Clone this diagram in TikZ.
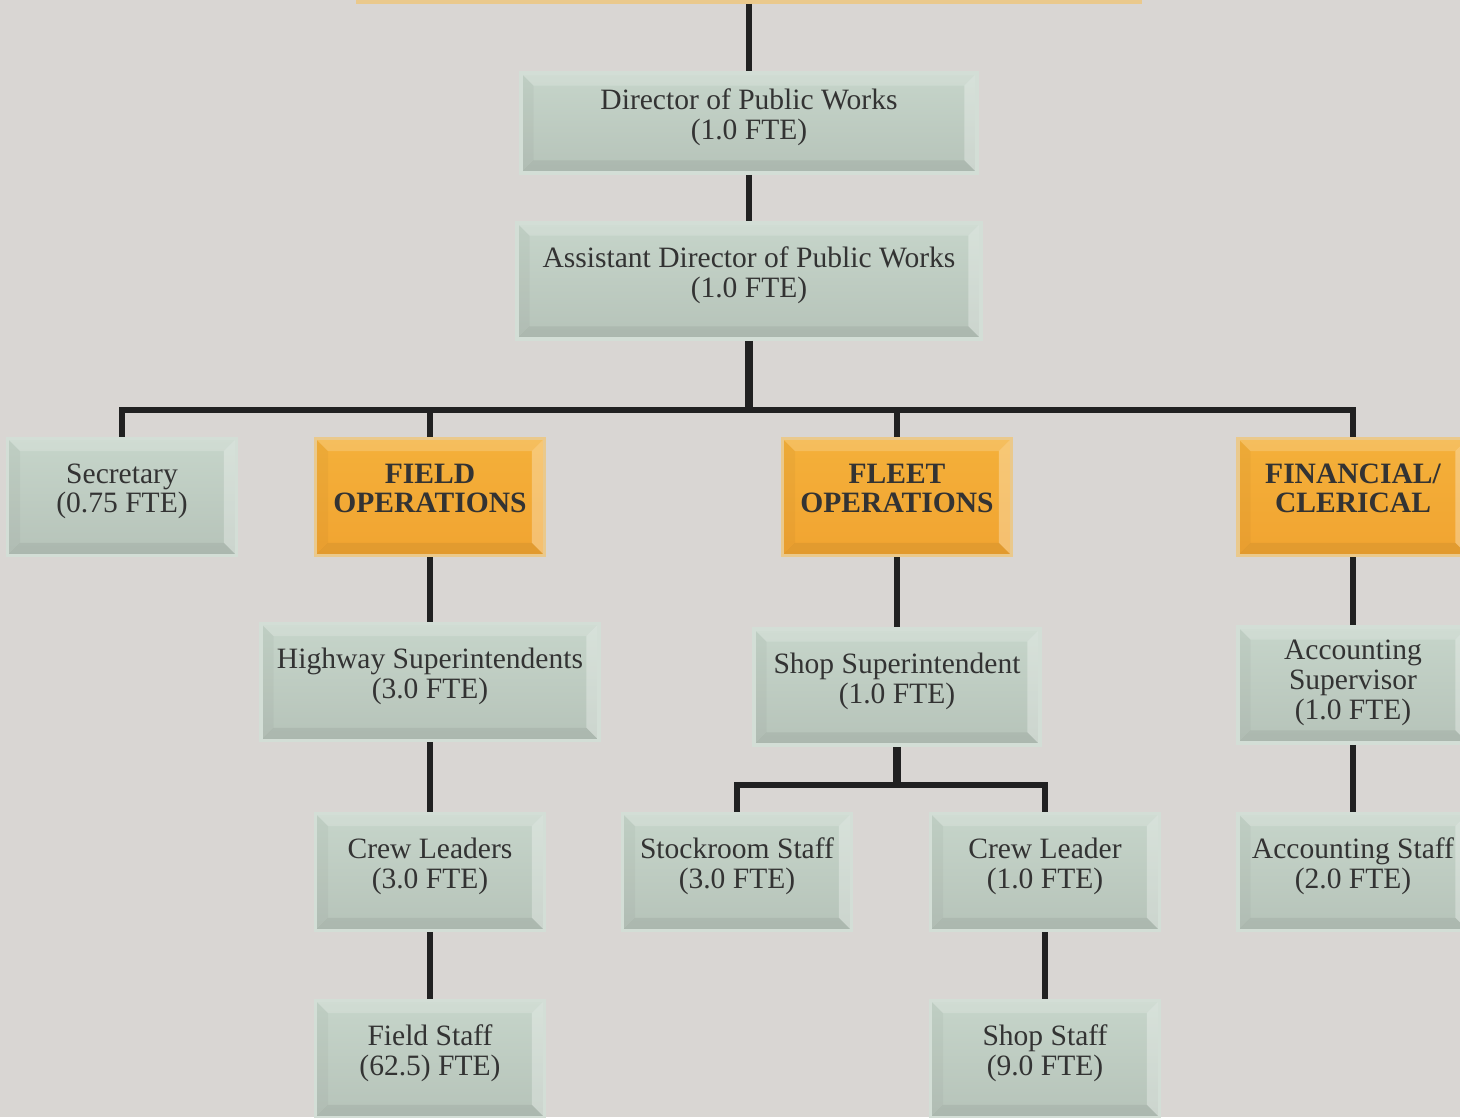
\documentclass[tikz,border=0pt]{standalone}
\usepackage{fontspec}
\setmainfont{Liberation Serif}
\usetikzlibrary{positioning}
\definecolor{paperGray}{HTML}{D9D6D3}
\definecolor{boxGreenTop}{HTML}{C6D5CA}
\definecolor{boxGreenLow}{HTML}{B6C3B9}
\definecolor{edgeGreen}{HTML}{D3DED6}
\definecolor{boxOrangeTop}{HTML}{F4B03A}
\definecolor{boxOrangeLow}{HTML}{F1A431}
\definecolor{edgeOrange}{HTML}{EAC98C}
\definecolor{lineBlack}{gray}{0.13}
\definecolor{textGray}{gray}{0.2}

% bevelled face of a box
\newcommand{\bevel}{%
  \fill[white, opacity=.18] (path picture bounding box.north west) -- (path picture bounding box.north east)
    -- ([shift={(-3.6pt,-3.6pt)}]path picture bounding box.north east) -- ([shift={(3.6pt,-3.6pt)}]path picture bounding box.north west) -- cycle;
  \fill[white, opacity=.30] (path picture bounding box.north east) -- (path picture bounding box.south east)
    -- ([shift={(-3.6pt,3.6pt)}]path picture bounding box.south east) -- ([shift={(-3.6pt,-3.6pt)}]path picture bounding box.north east) -- cycle;
  \fill[black, opacity=.06] (path picture bounding box.south west) -- (path picture bounding box.south east)
    -- ([shift={(-3.6pt,3.6pt)}]path picture bounding box.south east) -- ([shift={(3.6pt,3.6pt)}]path picture bounding box.south west) -- cycle;
  \fill[black, opacity=.03] (path picture bounding box.north west) -- (path picture bounding box.south west)
    -- ([shift={(3.6pt,3.6pt)}]path picture bounding box.south west) -- ([shift={(3.6pt,-3.6pt)}]path picture bounding box.north west) -- cycle;
}

\tikzset{
  unit/.style={draw=edgeGreen, line width=1pt, top color=boxGreenTop, bottom color=boxGreenLow,
    text=textGray, align=center, inner sep=0pt, minimum width=2.29cm, minimum height=1.17cm,
    text depth=5pt, font=\fontsize{8.4pt}{8.45pt}\selectfont, path picture={\bevel}},
  division/.style={unit, draw=edgeOrange, top color=boxOrangeTop, bottom color=boxOrangeLow,
    font=\fontsize{8.4pt}{8.45pt}\selectfont\bfseries},
  link/.style={draw=lineBlack, line width=1.7pt},
}

\begin{document}
\begin{tikzpicture}[x=0.01cm, y=-0.01cm]
    % Page
    \fill[paperGray] (0,0) rectangle (1460,1117);
    \useasboundingbox (0,0) rectangle (1460,1117);

    % Top of the chain
    \node[division, minimum width=7.82cm, minimum height=1cm] (board) at (749,-48) {};
    \node[unit, minimum width=4.56cm, minimum height=1cm] (dir) at (749,123) {Director of Public Works\\(1.0 FTE)};
    \node[unit, minimum width=4.64cm, minimum height=1.16cm] (asst) at (749,281) {Assistant Director of Public Works\\(1.0 FTE)};

    % Second row
    \node[unit] (sec) at (122,497) {Secretary\\(0.75 FTE)};
    \node[division] (field) at (430,497) {FIELD\\OPERATIONS};
    \node[division] (fleet) at (897,497) {FLEET\\OPERATIONS};
    \node[division, minimum width=2.3cm] (fin) at (1353,497) {FINANCIAL/\\CLERICAL};

    % Field operations
    \node[unit, minimum width=3.38cm] (hwy) at (430,682) {Highway Superintendents\\(3.0 FTE)};
    \node[unit] (crews) at (430,872) {Crew Leaders\\(3.0 FTE)};
    \node[unit] (fstaff) at (430,1059) {Field Staff\\(62.5) FTE)};

    % Fleet operations
    \node[unit, minimum width=2.86cm, minimum height=1.16cm] (shopsup) at (897,687) {Shop Superintendent\\(1.0 FTE)};
    \node[unit] (stock) at (737,872) {Stockroom Staff\\(3.0 FTE)};
    \node[unit] (crewl) at (1045,872) {Crew Leader\\(1.0 FTE)};
    \node[unit] (sstaff) at (1045,1059) {Shop Staff\\(9.0 FTE)};

    % Financial / clerical
    \node[unit, minimum width=2.3cm, minimum height=1.16cm, text depth=3pt] (acctsup) at (1353,685) {Accounting\\Supervisor\\(1.0 FTE)};
    \node[unit, minimum width=2.3cm] (acctstaff) at (1353,872) {Accounting Staff\\(2.0 FTE)};

    % Connectors
    \coordinate (bus) at (749,410);
    \coordinate (fbus) at (897,785);
    \draw[link] (board.south) -- (dir.north);
    \draw[link] (dir.south) -- (asst.north);
    \draw[link, line width=2.2pt] (asst.south) -- (bus);
    \draw[link, line width=1.5pt] (sec.north) |- (bus) -| (fin.north);
    \draw[link] (field.north) -- (field.north |- bus);
    \draw[link] (fleet.north) -- (fleet.north |- bus);
    \draw[link] (field.south) -- (hwy.north);
    \draw[link] (hwy.south) -- (crews.north);
    \draw[link] (crews.south) -- (fstaff.north);
    \draw[link] (fleet.south) -- (shopsup.north);
    \draw[link, line width=2.2pt] (shopsup.south) -- (fbus);
    \draw[link, line width=1.5pt] (stock.north) |- (fbus) -| (crewl.north);
    \draw[link] (crewl.south) -- (sstaff.north);
    \draw[link] (fin.south) -- (acctsup.north);
    \draw[link] (acctsup.south) -- (acctstaff.north);
\end{tikzpicture}
\end{document}
